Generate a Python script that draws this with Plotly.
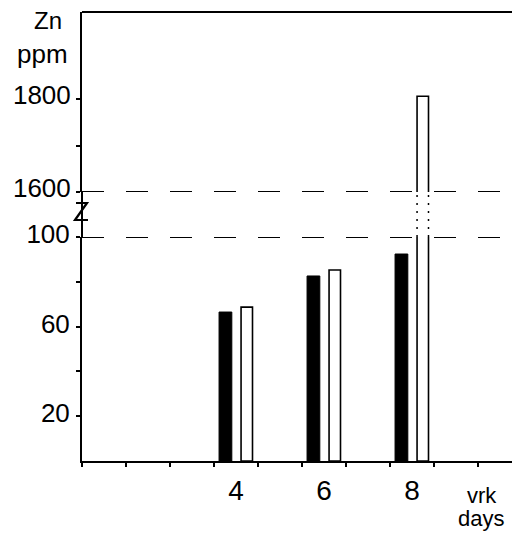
import plotly.graph_objects as go

# ---- data ----
days = [4, 6, 8]
day_labels = ["4", "6", "8"]
black_values = [66.5, 82.6, 92.4]      # Zn ppm, filled bars
white_values = [68.7, 85.3, 1806]      # Zn ppm, open bars
lower_ticks = [20, 60, 100]
lower_tick_text = ["20", "60", "100"]
lower_minor = [40, 80]
upper_ticks = [1600, 1800]
upper_tick_text = ["1600", "1800"]
upper_minor = [1700]
x_minor = [0.5, 1.5, 2.5, 3.5, 4.5, 5.5, 6.5, 7.5, 8.5, 9.5]

# ---- layout geometry (reference pixel frame; page body adds an 8px offset) ----
OFF = 8
W, H = 520 - OFF, 536 - OFF
ML, MR, MT, MB = 82 - OFF, 0, 12 - OFF, 75
PW, PH = W - ML - MR, H - MT - MB
FONT = "Liberation Sans, Arial, sans-serif"

lower_dom = [0, 224 / PH]
upper_dom = [(461 - 192) / PH, 1]

black_offset, black_width = -0.385, 0.29
white_offset, white_width = 0.115, 0.26


def px(xp):
    return (xp - OFF - ML) / PW


def py(yp):
    return (H - MB - (yp - OFF)) / PH


fig = go.Figure()
for yax in ["y", "y2"]:
    fig.add_trace(go.Bar(
        x=days, y=black_values, yaxis=yax, xaxis="x",
        offset=black_offset, width=black_width,
        marker=dict(color="black", line=dict(color="black", width=1)),
        showlegend=False, hoverinfo="skip",
    ))
    fig.add_trace(go.Bar(
        x=days, y=white_values, yaxis=yax, xaxis="x",
        offset=white_offset, width=white_width,
        marker=dict(color="white", line=dict(color="black", width=1.6)),
        showlegend=False, hoverinfo="skip",
    ))

shapes = []
# dashed break lines
shapes.append(dict(type="line", xref="paper", x0=0, x1=1, yref="y", y0=100, y1=100,
                   line=dict(color="black", width=2, dash="22px,22px")))
shapes.append(dict(type="line", xref="paper", x0=0, x1=1, yref="y2", y0=1600, y1=1600,
                   line=dict(color="black", width=2, dash="22px,22px")))
# y axis continuing through the gap
shapes.append(dict(type="line", xref="paper", x0=0, x1=0, yref="paper",
                   y0=lower_dom[1], y1=upper_dom[0], line=dict(color="black", width=2)))
# top frame line
shapes.append(dict(type="line", xref="paper", x0=0, x1=1, yref="paper", y0=1, y1=1,
                   line=dict(color="black", width=2)))
# dotted edges of the tall bar through the gap
for d, v in zip(days, white_values):
    if v > 100:
        for xe in (d + white_offset, d + white_offset + white_width):
            shapes.append(dict(type="line", xref="x", x0=xe, x1=xe, yref="paper",
                               y0=lower_dom[1], y1=upper_dom[0],
                               line=dict(color="black", width=1.5, dash="2px,6px")))
# axis break mark
zpath = "M {},{} L {},{} L {},{} L {},{}".format(
    px(76), py(203), px(87), py(203), px(75), py(220), px(88), py(220))
shapes.append(dict(type="path", xref="paper", yref="paper", path=zpath,
                   line=dict(color="black", width=2.2)))

axis_common = dict(showgrid=False, zeroline=False, showline=True, linecolor="black",
                   linewidth=2, ticks="outside", ticklen=4, tickwidth=1.5,
                   tickcolor="black", automargin=False,
                   tickfont=dict(family=FONT, size=26, color="black"))

ann_font = dict(family=FONT, size=22, color="black")
fig.update_layout(
    width=W, height=H,
    autosize=False,
    margin=dict(l=ML, r=MR, t=MT, b=MB, pad=0, autoexpand=False),
    paper_bgcolor="white", plot_bgcolor="white",
    barmode="overlay",
    font=dict(family=FONT, color="black"),
    xaxis=dict(range=[0.5, 0.5 + PW / 44.0], tickvals=days, ticktext=day_labels,
               showgrid=False, zeroline=False, showline=True, linecolor="black",
               linewidth=2, ticks="", ticklabelstandoff=3, automargin=False,
               tickfont=dict(family=FONT, size=28, color="black"),
               minor=dict(tickvals=x_minor, ticks="outside", ticklen=4,
                          tickwidth=1.5, tickcolor="black"),
               anchor="y"),
    yaxis=dict(domain=lower_dom, range=[0, 100], tickvals=lower_ticks,
               ticktext=lower_tick_text, anchor="x", ticklabelstandoff=1,
               ticklabelshift=-3,
               minor=dict(tickvals=lower_minor, ticks="outside", ticklen=4,
                          tickwidth=1.5, tickcolor="black"),
               **axis_common),
    yaxis2=dict(domain=upper_dom, range=[1600, 1600 + 180 / 0.465], tickvals=upper_ticks,
                ticktext=upper_tick_text, anchor="x", ticklabelstandoff=0,
                ticklabelshift=-4,
                minor=dict(tickvals=upper_minor, ticks="outside", ticklen=4,
                           tickwidth=1.5, tickcolor="black"),
                **axis_common),
    shapes=shapes,
    annotations=[
        dict(text="Zn", xref="paper", yref="paper", x=px(48), y=py(21),
             xanchor="center", yanchor="middle", showarrow=False,
             font=dict(family=FONT, size=24, color="black")),
        dict(text="ppm", xref="paper", yref="paper", x=px(42), y=py(54),
             xanchor="center", yanchor="middle", showarrow=False,
             font=dict(family=FONT, size=26, color="black")),
        dict(text="vrk", xref="x", yref="paper", x=9.58, y=py(495),
             xanchor="center", yanchor="middle", showarrow=False, font=ann_font),
        dict(text="days", xref="x", yref="paper", x=9.56, y=py(519),
             xanchor="center", yanchor="middle", showarrow=False, font=ann_font),
    ],
)

fig.write_html("out.html")
